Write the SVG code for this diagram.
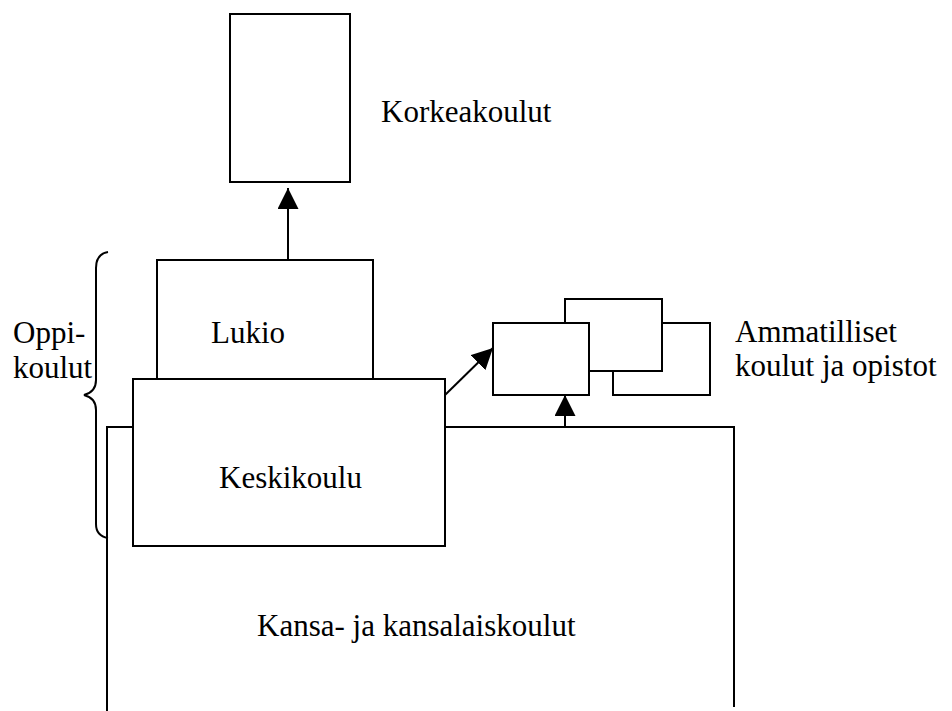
<svg xmlns="http://www.w3.org/2000/svg" width="952" height="711" viewBox="0 0 952 711">
<style>
.box{fill:#fff;stroke:#000;stroke-width:2}
.ln{fill:none;stroke:#000;stroke-width:2}
.t{font-family:"Liberation Serif","Times New Roman",serif;font-size:31px;fill:#000}
</style>
<defs>
<marker id="ah" markerUnits="userSpaceOnUse" markerWidth="21" markerHeight="21" refX="21" refY="10.5" orient="auto" viewBox="0 0 21 21">
<path d="M0,0 L21,10.5 L0,21 z" fill="#000"/>
</marker>
</defs>
<rect width="952" height="711" fill="#fff"/>
<g id="kansakoulut">
<path class="ln" d="M107,711 L107,427 L133,427 M445,427 L734,427 L734,707"/>
<text class="t" x="257" y="636">Kansa- ja kansalaiskoulut</text>
</g>
<g id="korkeakoulut">
<rect class="box" x="230" y="14" width="120" height="168"/>
<text class="t" x="381" y="122">Korkeakoulut</text>
</g>
<g id="lukio">
<rect class="box" x="157" y="260" width="216" height="119"/>
<text class="t" x="211" y="343">Lukio</text>
</g>
<g id="keskikoulu">
<rect class="box" x="133" y="379" width="312" height="167"/>
<text class="t" x="219" y="488">Keskikoulu</text>
</g>
<g id="ammatilliset">
<rect class="box" x="613" y="323" width="97" height="72"/>
<rect class="box" x="565" y="299" width="97" height="72"/>
<rect class="box" x="493" y="323" width="96" height="72"/>
<text class="t" x="735" y="342">Ammatilliset</text>
<text class="t" x="735" y="376">koulut ja opistot</text>
</g>
<g id="oppikoulut">
<path class="ln" d="M108,252 Q96,254 96,268 L96,380 Q96,392 84,395 Q96,398 96,410 L96,524 Q96,536 108,538"/>
<text class="t" x="13" y="343">Oppi-</text>
<text class="t" x="13" y="378">koulut</text>
</g>
<g id="connectors">
<line class="ln" x1="288" y1="260" x2="288" y2="188" marker-end="url(#ah)"/>
<line class="ln" x1="445" y1="395" x2="493" y2="348" marker-end="url(#ah)"/>
<line class="ln" x1="565" y1="427" x2="565" y2="395" marker-end="url(#ah)"/>
</g>
</svg>
